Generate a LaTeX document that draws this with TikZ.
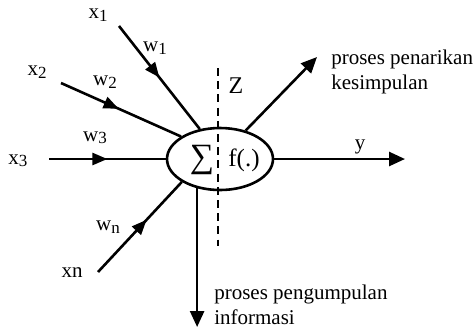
\documentclass[tikz,border=0pt]{standalone}
\usepackage{fontspec}
\setmainfont{Liberation Serif}
\usetikzlibrary{shapes.geometric,arrows.meta,decorations.markings}
\newcommand{\idx}[1]{\raisebox{-1.2pt}{\fontsize{8.5}{10}\selectfont #1}}

\begin{document}
\begin{tikzpicture}[x=0.5pt,y=-0.5pt,line width=1.3pt,
  tip/.style={-{Triangle[length=8pt,width=7pt]}},
  midtip/.style={decoration={markings,
    mark=at position #1 with {\arrow{Triangle[length=7.5pt,width=6pt]}}},
    postaction={decorate}},
  midtip/.default=0.5,
  lbl/.style={font=\fontsize{10.5}{12.5}\selectfont,inner sep=0pt}]
\useasboundingbox (0,0) rectangle (475,329);

% neuron body
\node[ellipse,draw,minimum width=53pt,minimum height=31pt,inner sep=0pt] (neuron) at (220,159) {};
\node[font=\fontsize{17}{17}\selectfont,inner sep=0pt] (sigma) at (202,160) {∑};
\node[font=\fontsize{12.5}{14}\selectfont,inner sep=0pt] (fx) at (244,160) {f(.)};

% separation line Z
\coordinate (zTop) at (218,68);
\coordinate (zBot) at (218,246);
\draw[dash pattern=on 4pt off 2.6pt] (zTop) -- (zBot);
\node[font=\fontsize{12}{14}\selectfont,inner sep=0pt] (zlabel) at (236,86) {Z};

% inputs
\coordinate (x1) at (119,26);
\coordinate (x2) at (61,83);
\coordinate (x3) at (49,159);
\coordinate (xn) at (98,272);
\draw[midtip=0.5] (x1) -- (neuron.124);
\draw[midtip=0.48] (x2) -- (neuron.150);
\draw[midtip=0.5] (x3) -- (neuron.west);
\draw[midtip=0.58] (xn) -- (neuron.211);

\node[lbl] (lx1) at (98,15) {x\idx{1}};
\node[lbl] (lx2) at (37,72) {x\idx{2}};
\node[lbl] (lx3) at (18,161) {x\idx{3}};
\node[lbl] (lxn) at (72,273) {xn};
\node[lbl] (lw1) at (155,48) {w\idx{1}};
\node[lbl] (lw2) at (105,82) {w\idx{2}};
\node[lbl] (lw3) at (95,138) {w\idx{3}};
\node[lbl] (lwn) at (108,227) {w\idx{n}};

% outputs
\coordinate (yEnd) at (405,159);
\coordinate (kesEnd) at (317,57);
\coordinate (infoEnd) at (198,327);
\draw[tip] (neuron.east) -- (yEnd);
\draw[tip] (neuron.48) -- (kesEnd);
\draw[tip] (neuron.232) -- (neuron.232 |- infoEnd);

\node[lbl] (ly) at (360,147) {y};
\node[lbl,anchor=west,align=left] (kes) at (330,72) {proses penarikan\\kesimpulan};
\node[lbl,anchor=west,align=left] (info) at (213,305) {proses pengumpulan\\informasi};
\end{tikzpicture}
\end{document}
